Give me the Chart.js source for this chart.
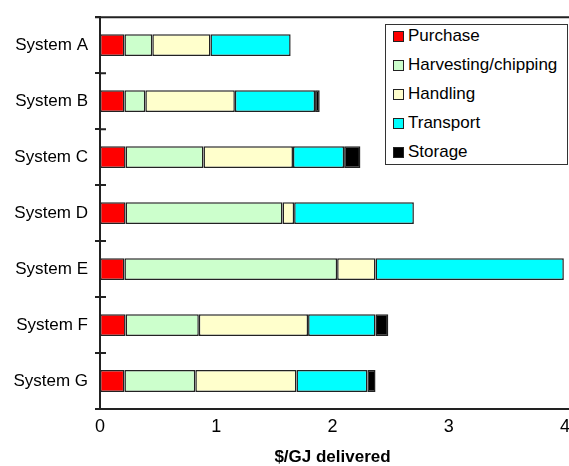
<!DOCTYPE html>
<html>
<head>
<meta charset="utf-8">
<title>Delivered cost by system</title>
<script src="https://cdn.jsdelivr.net/npm/chart.js@4.4.1/dist/chart.umd.min.js"></script>
<style>
  body { margin: 0; background: #fff; }
  #wrap { position: relative; width: 569px; height: 466px; }
  #legenda {
    position: absolute; left: 385px; top: 24px; width: 183px; height: 141px;
    box-sizing: border-box; border: 1.5px solid #333; background: #fff;
    padding-top: 1px; font-family: 'Liberation Sans', Arial, sans-serif; font-size: 17px;
  }
  #legenda div { display: flex; align-items: center; height: 20px; margin-bottom: 9px; padding-left: 7px; }
  #legenda span.box { width: 11px; height: 11px; box-sizing: border-box; border: 1.5px solid #222; margin-right: 4px; }
</style>
</head>
<body>
<div id="wrap">
  <canvas id="grafico"></canvas>
  <div id="legenda"></div>
</div>
<script>
const sistemas = ["System A", "System B", "System C", "System D", "System E", "System F", "System G"];

// $/GJ delivered, per cost component
const purchase   = [0.21, 0.21, 0.22, 0.22, 0.21, 0.22, 0.21];
const harvesting = [0.24, 0.18, 0.67, 1.35, 1.83, 0.63, 0.61];
const handling   = [0.50, 0.77, 0.77, 0.10, 0.33, 0.94, 0.87];
const transport  = [0.69, 0.69, 0.44, 1.03, 1.62, 0.58, 0.61];
const storage    = [0,    0.04, 0.14, 0,    0,    0.11, 0.07];

const xTicks = [0, 1, 2, 3, 4];

const componentes = [
    { label: "Purchase", data: purchase, cor: "#ff0000" },
    { label: "Harvesting/chipping", data: harvesting, cor: "#ccffcc" },
    { label: "Handling", data: handling, cor: "#ffffcc" },
    { label: "Transport", data: transport, cor: "#00ffff" },
    { label: "Storage", data: storage, cor: "#000000" }
];

Chart.defaults.font.family = "'Liberation Sans', Arial, sans-serif";
Chart.defaults.font.size = 17;
Chart.defaults.color = "#000";

// top frame line, ticks that cross the value axis, axis run to the edge
const linhasExtras = {
    id: "linhasExtras",
    afterDraw(chart) {
        const { ctx, chartArea, scales } = chart;
        ctx.save();
        ctx.strokeStyle = "#222";
        ctx.lineWidth = 2;
        ctx.beginPath();
        ctx.moveTo(chartArea.left - 5, chartArea.top);
        ctx.lineTo(chart.width, chartArea.top);
        ctx.moveTo(chartArea.right, chartArea.bottom);
        ctx.lineTo(chart.width, chartArea.bottom);
        for (let i = 0; i <= sistemas.length; i++) {
            const py = scales.y.getPixelForValue(i - 0.5);
            ctx.moveTo(chartArea.left, py);
            ctx.lineTo(chartArea.left + 6, py);
        }
        ctx.stroke();
        ctx.restore();
    }
};

const ctx = document.getElementById("grafico").getContext("2d");

const grafico = new Chart(ctx, {
    type: "bar",
    data: {
        labels: sistemas,
        datasets: componentes.map(c => ({
            label: c.label,
            data: c.data,
            backgroundColor: c.cor,
            borderColor: "#222",
            borderWidth: 1.5,
            borderSkipped: false,
            barPercentage: 0.39,
            categoryPercentage: 1
        }))
    },
    options: {
        indexAxis: "y",
        responsive: true,
        maintainAspectRatio: false,
        animation: false,
        layout: { padding: { top: 15, right: 0, left: 0, bottom: 0 } },
        plugins: {
            legend: { display: false },
            tooltip: { enabled: false }
        },
        scales: {
            x: {
                stacked: true,
                min: 0,
                max: 4,
                afterBuildTicks: s => { s.ticks = xTicks.map(v => ({ value: v })); },
                afterFit: s => {
                    s.height = 57;
                    s.paddingLeft = 0;
                    s.paddingRight = 4;
                },
                grid: { display: false, drawTicks: false },
                border: { display: true, color: "#222", width: 2 },
                ticks: { padding: 7, font: { size: 18 } },
                title: {
                    display: true,
                    text: "$/GJ delivered",
                    font: { size: 17, weight: "bold", lineHeight: 1 },
                    padding: { top: 0, bottom: 0 }
                }
            },
            y: {
                stacked: true,
                afterFit: s => { s.width = 100; },
                grid: { display: true, drawOnChartArea: false, offset: true, tickLength: 5, color: "#222", lineWidth: 2 },
                border: { display: true, color: "#222", width: 2 },
                ticks: { padding: 7 }
            }
        }
    },
    plugins: [linhasExtras]
});

// legend box drawn from the same datasets
const legenda = document.getElementById("legenda");
grafico.data.datasets.forEach(ds => {
    const linha = document.createElement("div");
    const caixa = document.createElement("span");
    caixa.className = "box";
    caixa.style.background = ds.backgroundColor;
    const texto = document.createElement("span");
    texto.textContent = ds.label;
    linha.appendChild(caixa);
    linha.appendChild(texto);
    legenda.appendChild(linha);
});
</script>
</body>
</html>
